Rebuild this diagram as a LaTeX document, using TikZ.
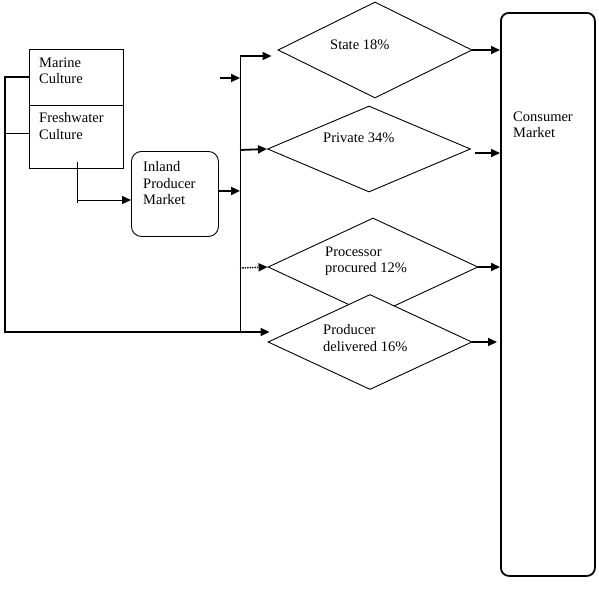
\documentclass[tikz,border=0pt]{standalone}
\usepackage{fontspec}
\setmainfont{Liberation Serif}
\usetikzlibrary{arrows.meta,shapes.geometric}
\begin{document}
\begin{tikzpicture}[x=1pt,y=-1pt,
  lbl/.style={font=\fontsize{14.5}{16.5}\selectfont, align=left, inner sep=0pt, anchor=north west},
  dia/.style={draw, shape=diamond, inner sep=0pt, line width=0.9pt, fill=white},
  thinln/.style={line width=0.9pt},
  thkln/.style={line width=1.8pt},
  arr/.style={-{Triangle[length=9pt,width=8pt]}, line width=1.8pt},
]
\useasboundingbox (0,0) rectangle (599,595);

% boxes
\node (cult) [draw, thinln, minimum width=94pt, minimum height=119pt, anchor=north west, inner sep=0pt] at (29,49) {};
\draw[thinln] (cult.west |- 0,105) -- (cult.east |- 0,105);
\node[lbl] (tmarine) at (39,57.5) {Marine\\Culture};
\node[lbl] (tfresh) at (39,112.5) {Freshwater\\Culture};

\node (inland) [draw, thinln, rounded corners=10pt, minimum width=87pt, minimum height=85pt, anchor=north west, inner sep=0pt] at (131,151) {};
\node[lbl] (tinland) at (143,161.5) {Inland\\Producer\\Market};

\node (cons) [draw, thkln, rounded corners=8pt, minimum width=94pt, minimum height=563pt, anchor=north west, inner sep=0pt] at (500,12) {};
\node[lbl] (tcons) at (513,111.5) {Consumer\\Market};

% diamonds
\node (state) [dia, minimum width=194pt, minimum height=96pt] at (375,50) {};
\node (private) [dia, minimum width=203pt, minimum height=86pt] at (369,149) {};
\node (proc) [dia, minimum width=210pt, minimum height=98pt] at (373,267) {};
\node (prod) [dia, minimum width=204pt, minimum height=95pt] at (370,342) {};

\node[lbl] (tstate) at (330,39.5) {State 18\%};
\node[lbl] (tprivate) at (323,132.5) {Private 34\%};
\node[lbl] (tproc) at (325,246.5) {Processor\\procured 12\%};
\node[lbl] (tprod) at (323,324.5) {Producer\\delivered 16\%};

% junction coordinates
\coordinate (jtop) at (240,56);
\coordinate (jstub) at (240,78);
\coordinate (jpriv) at (240,150);
\coordinate (jproc) at (240,268);
\coordinate (jbot) at (240,332);
\coordinate (stub) at (220,78);
\coordinate (lcorner) at (5,332);
\coordinate (ltop) at (5,77);
\coordinate (lfresh) at (5,133);
\coordinate (fdtop) at (77,162);
\coordinate (fdbot) at (77,203);
\coordinate (fdturn) at (77,200);
\coordinate (pout) at (475,153);

% left feed lines
\draw[thkln] (cult.west |- ltop) -- (ltop) -- (lcorner) -- (jbot);
\draw[thinln] (cult.west |- lfresh) -- (lfresh);
\draw[thinln] (fdtop) -- (fdbot);
\draw[arr, line width=0.9pt] (fdturn) -- (fdturn -| inland.west);
\draw[arr] ([yshift=3pt]inland.east) -- ([yshift=3pt]inland.east -| jtop);

% central distribution line
\draw[thinln] (jtop) -- (jbot);
\draw[arr] (stub) -- (jstub);
\draw[arr, shorten >=6pt] (jtop) -- (jtop -| state.west);
\draw[arr] (jpriv) -- (private.west);
\draw[-{Triangle[length=9pt,width=8pt]}, line width=1.4pt, densely dotted] (jproc) -- (proc.west);
\draw[arr, shorten >=-2pt] (jbot) -- (jbot -| prod.west);

% into consumer market
\draw[arr] (state.east) -- (state.east -| cons.west);
\draw[arr] (pout) -- (pout -| cons.west);
\draw[arr] (proc.east) -- (proc.east -| cons.west);
\draw[arr, shorten >=3pt] (prod.east) -- (prod.east -| cons.west);
\end{tikzpicture}
\end{document}
